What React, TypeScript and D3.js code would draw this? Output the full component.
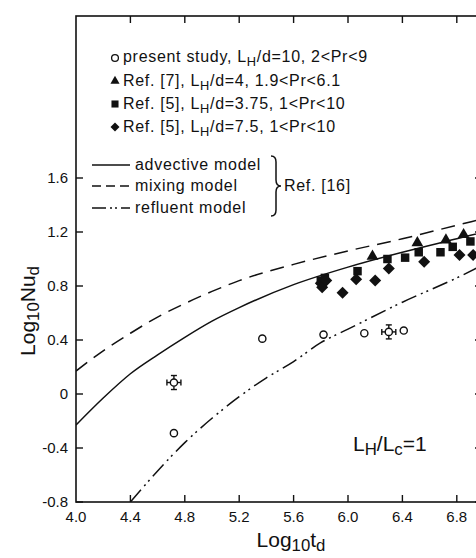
import React from 'react'
import * as d3 from 'd3'

// model curves (Ref. [16])
const advectiveX = [4.0, 4.2, 4.4, 4.6, 4.8, 5.0, 5.2, 5.6, 6.0, 6.4, 6.8, 7.0]
const advectiveY = [-0.23, -0.03, 0.15, 0.29, 0.42, 0.54, 0.64, 0.81, 0.94, 1.05, 1.15, 1.2]
const mixingX = [4.0, 4.2, 4.4, 4.6, 4.8, 5.0, 5.2, 5.6, 6.0, 6.4, 6.8, 7.0]
const mixingY = [0.17, 0.32, 0.45, 0.57, 0.67, 0.76, 0.84, 0.96, 1.06, 1.15, 1.25, 1.3]
const refluentX = [4.4, 4.6, 4.8, 5.0, 5.2, 5.4, 5.6, 5.8, 6.0, 6.4, 6.8, 7.0]
const refluentY = [-0.8, -0.57, -0.36, -0.18, -0.02, 0.12, 0.24, 0.38, 0.48, 0.68, 0.86, 0.96]

// measured data
const presentX = [4.72, 5.37, 5.82, 6.12, 6.41]
const presentY = [-0.29, 0.41, 0.44, 0.45, 0.47]
const errorX = [4.72, 6.3]
const errorY = [0.085, 0.46]
const ref7X = [6.18, 6.51, 6.72, 6.85]
const ref7Y = [1.02, 1.12, 1.14, 1.18]
const ref5aX = [5.8, 5.83, 6.07, 6.29, 6.42, 6.52, 6.68, 6.77, 6.9]
const ref5aY = [0.84, 0.86, 0.91, 1.0, 1.01, 1.05, 1.05, 1.09, 1.13]
const ref5bX = [5.8, 5.81, 5.84, 5.96, 6.06, 6.2, 6.3, 6.56, 6.82, 6.92]
const ref5bY = [0.82, 0.79, 0.84, 0.75, 0.85, 0.84, 0.93, 0.98, 1.03, 1.03]

const xTicks = [4.0, 4.4, 4.8, 5.2, 5.6, 6.0, 6.4, 6.8]
const yTicks = [-0.8, -0.4, 0, 0.4, 0.8, 1.2, 1.6]
const yTickLabels = ['-0.8', '-0.4', '0', '0.4', '0.8', '1.2', '1.6']

const W = 476
const H = 558
const font = '"Liberation Sans", Arial, Helvetica, sans-serif'
const ink = '#111'

const diamond = (s: number) => `M0,${-s}L${s},0L0,${s}L${-s},0Z`

export default function App() {
  const x = d3.scaleLinear().domain([4, 7]).range([76, 484])
  const y = d3.scaleLinear().domain([-0.8, 2.8]).range([502, 16])

  const line = d3.line<[number, number]>()
    .x(d => x(d[0]))
    .y(d => y(d[1]))
    .curve(d3.curveMonotoneX)

  const zip = (a: number[], b: number[]) => a.map((v, i) => [v, b[i]] as [number, number])

  const tri = d3.symbol().type(d3.symbolTriangle).size(60)()
  const sq = d3.symbol().type(d3.symbolSquare).size(72)()

  const left = x(4), right = x(7), top = y(2.8), bottom = y(-0.8)

  const sub = (s: string) => (
    <tspan dy={4} fontSize="0.8em">{s}</tspan>
  )

  const legendRows = [
    { kind: 'circle', y: 57, pre: 'present study, L', post: '/d=10, 2<Pr<9' },
    { kind: 'tri', y: 81, pre: 'Ref. [7], L', post: '/d=4, 1.9<Pr<6.1' },
    { kind: 'sq', y: 104, pre: 'Ref. [5], L', post: '/d=3.75, 1<Pr<10' },
    { kind: 'dia', y: 127, pre: 'Ref. [5], L', post: '/d=7.5, 1<Pr<10' },
  ]

  const lineRows = [
    { y: 165, dash: undefined, label: 'advective model' },
    { y: 186, dash: '9 5', label: 'mixing model' },
    { y: 208, dash: '14 4 2 3 2 4', label: 'refluent model' },
  ]

  return (
    <svg width={W} height={H} style={{ position: 'absolute', left: 0, top: 0, background: '#fff' }}
      fontFamily={font}>
      <defs>
        <clipPath id="plot">
          <rect x={left} y={top} width={right - left} height={bottom - top} />
        </clipPath>
      </defs>
      <rect width={W} height={H} fill="#fff" />

      {/* frame */}
      <rect x={left} y={top} width={right - left} height={bottom - top} fill="none" stroke={ink} strokeWidth={1.6} />
      {xTicks.slice(1).map(t => (
        <g key={'xt' + t}>
          <line x1={x(t)} x2={x(t)} y1={bottom} y2={bottom - 7} stroke={ink} strokeWidth={1.4} />
          <line x1={x(t)} x2={x(t)} y1={top} y2={top + 7} stroke={ink} strokeWidth={1.4} />
        </g>
      ))}
      {xTicks.map(t => (
        <text key={'xl' + t} x={x(t)} y={bottom + 20} fontSize={15} textAnchor="middle" fill={ink}>
          {t.toFixed(1)}
        </text>
      ))}
      {yTicks.map((t, i) => (
        <g key={'yt' + t}>
          <line x1={left} x2={left + 7} y1={y(t)} y2={y(t)} stroke={ink} strokeWidth={1.4} />
          <line x1={right} x2={right - 9} y1={y(t)} y2={y(t)} stroke={ink} strokeWidth={1.4} />
          <text x={left - 8} y={y(t) + 5} fontSize={15} textAnchor="end" fill={ink}>{yTickLabels[i]}</text>
        </g>
      ))}

      {/* model curves */}
      <g clipPath="url(#plot)" fill="none" stroke={ink} strokeWidth={1.5}>
        <path d={line(zip(advectiveX, advectiveY)) || ''} />
        <path d={line(zip(mixingX, mixingY)) || ''} strokeDasharray="14 8" />
        <path d={line(zip(refluentX, refluentY)) || ''} strokeDasharray="16 5 2 4 2 5" />
      </g>

      {/* data */}
      <g clipPath="url(#plot)">
        {presentX.map((v, i) => (
          <circle key={'p' + i} cx={x(v)} cy={y(presentY[i])} r={3.6} fill="#fff" stroke={ink} strokeWidth={1.4} />
        ))}
        {errorX.map((v, i) => {
          const cx = x(v), cy = y(errorY[i])
          return (
            <g key={'e' + i} stroke={ink} strokeWidth={1.4}>
              <line x1={cx - 7} x2={cx + 7} y1={cy} y2={cy} />
              <line x1={cx - 7} x2={cx - 7} y1={cy - 3} y2={cy + 3} />
              <line x1={cx + 7} x2={cx + 7} y1={cy - 3} y2={cy + 3} />
              <line x1={cx} x2={cx} y1={cy - 7} y2={cy + 7} />
              <line x1={cx - 3} x2={cx + 3} y1={cy - 7} y2={cy - 7} />
              <line x1={cx - 3} x2={cx + 3} y1={cy + 7} y2={cy + 7} />
              <circle cx={cx} cy={cy} r={3.6} fill="#fff" />
            </g>
          )
        })}
        {ref7X.map((v, i) => (
          <path key={'t' + i} d={tri || ''} transform={`translate(${x(v)},${y(ref7Y[i])})`} fill={ink} />
        ))}
        {ref5aX.map((v, i) => (
          <path key={'s' + i} d={sq || ''} transform={`translate(${x(v)},${y(ref5aY[i])})`} fill={ink} />
        ))}
        {ref5bX.map((v, i) => (
          <path key={'d' + i} d={diamond(6)} transform={`translate(${x(v)},${y(ref5bY[i])})`} fill={ink} />
        ))}
      </g>

      {/* legend: symbols */}
      {legendRows.map(r => (
        <g key={r.y}>
          {r.kind === 'circle' && <circle cx={115} cy={r.y + 1} r={3.4} fill="none" stroke={ink} strokeWidth={1.3} />}
          {r.kind === 'tri' && <path d={d3.symbol().type(d3.symbolTriangle).size(36)() || ''} transform={`translate(115,${r.y})`} fill={ink} />}
          {r.kind === 'sq' && <path d={d3.symbol().type(d3.symbolSquare).size(50)() || ''} transform={`translate(115,${r.y})`} fill={ink} />}
          {r.kind === 'dia' && <path d={diamond(4.5)} transform={`translate(115,${r.y})`} fill={ink} />}
          <text x={123} y={r.y + 5} fontSize={16} letterSpacing={0.7} fill={ink}>
            {r.pre}{sub('H')}<tspan dy={-4}>{r.post}</tspan>
          </text>
        </g>
      ))}

      {/* legend: lines */}
      {lineRows.map(r => (
        <g key={r.y}>
          <line x1={92} x2={130} y1={r.y} y2={r.y} stroke={ink} strokeWidth={1.4} strokeDasharray={r.dash} />
          <text x={135} y={r.y + 5} fontSize={16} letterSpacing={0.7} fill={ink}>{r.label}</text>
        </g>
      ))}
      <path d="M271,156 Q276,156 276,162 L276,180 Q276,186 281,186 Q276,186 276,192 L276,210 Q276,216 271,216"
        fill="none" stroke={ink} strokeWidth={1.5} />
      <text x={284} y={191} fontSize={16} letterSpacing={0.7} fill={ink}>Ref. [16]</text>

      {/* annotation */}
      <text x={353} y={451} fontSize={21} fill={ink}>
        L{sub('H')}<tspan dy={-4}>/L</tspan>{sub('c')}<tspan dy={-4}>=1</tspan>
      </text>

      {/* axis titles */}
      <text x={291} y={547} fontSize={21} textAnchor="middle" fill={ink}>
        Log{sub('10')}<tspan dy={-4}>t</tspan>{sub('d')}
      </text>
      <text transform="translate(35,311) rotate(-90)" fontSize={21} textAnchor="middle" fill={ink}>
        Log{sub('10')}<tspan dy={-4}>Nu</tspan>{sub('d')}
      </text>
    </svg>
  )
}
